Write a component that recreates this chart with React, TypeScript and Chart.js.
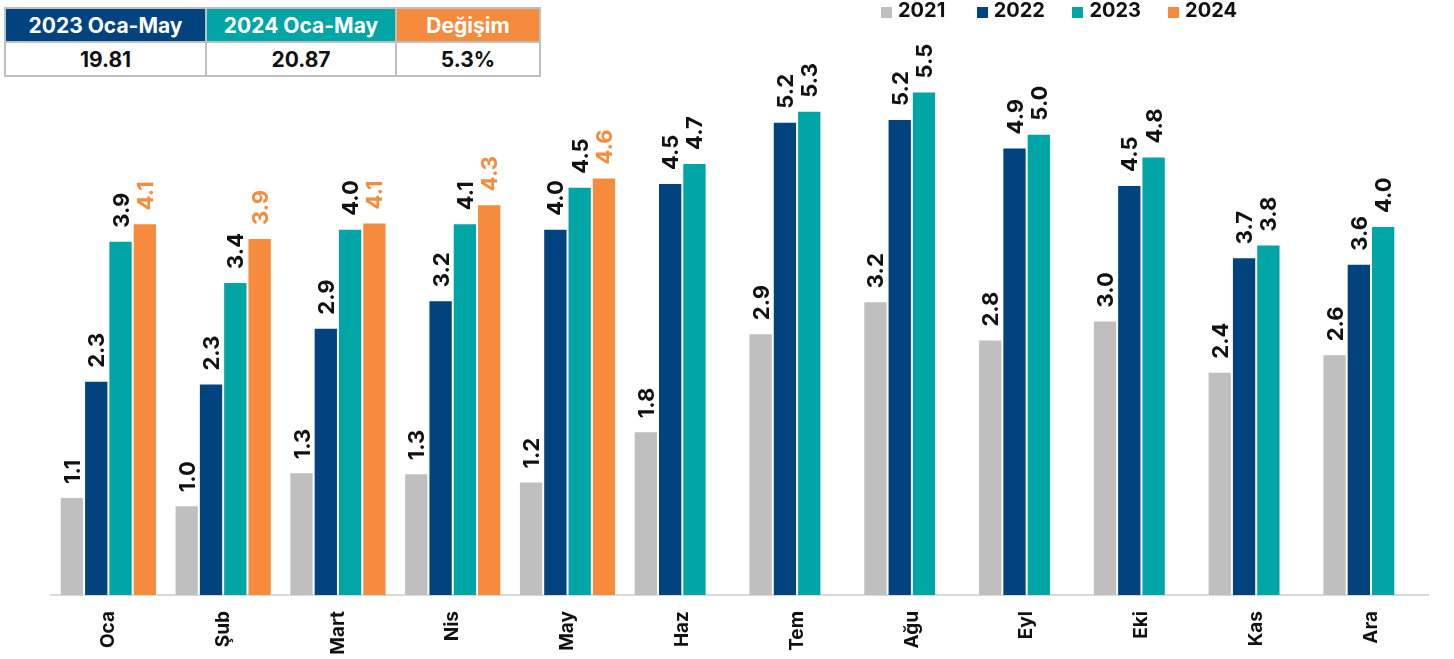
import React, { useEffect, useRef } from "react";
import { Chart, registerables } from "chart.js";

Chart.register(...registerables);

const months = ["Oca", "Şub", "Mart", "Nis", "May", "Haz", "Tem", "Ağu", "Eyl", "Eki", "Kas", "Ara"];
const seriesNames = ["2021", "2022", "2023", "2024"];
const values2021 = [1.07, 0.98, 1.34, 1.33, 1.24, 1.79, 2.86, 3.21, 2.79, 3.0, 2.44, 2.63];
const values2022 = [2.34, 2.31, 2.92, 3.22, 4.0, 4.5, 5.17, 5.2, 4.89, 4.48, 3.69, 3.62];
const values2023 = [3.87, 3.42, 4.0, 4.06, 4.46, 4.72, 5.29, 5.5, 5.04, 4.79, 3.83, 4.03];
const values2024 = [4.06, 3.9, 4.07, 4.27, 4.56, null, null, null, null, null, null, null];
const seriesColors = ["#bfbfbf", "#00437f", "#00a5a6", "#f78b3d"];
const labelColors = ["#111111", "#111111", "#111111", "#f78b3d"];

const tableHeaders = ["2023 Oca-May", "2024 Oca-May", "Değişim"];
const tableValues = ["19.81", "20.87", "5.3%"];
const tableHeaderColors = ["#00437f", "#00a5a6", "#f78b3d"];

const FONT = "Inter, 'Noto Sans', sans-serif";

const valueLabelPlugin = {
  id: "valueLabels",
  afterDatasetsDraw(chart: any) {
    const ctx = chart.ctx;
    chart.data.datasets.forEach((ds: any, i: number) => {
      const meta = chart.getDatasetMeta(i);
      if (meta.hidden) return;
      meta.data.forEach((bar: any, j: number) => {
        const v = ds.data[j];
        if (v === null || v === undefined) return;
        ctx.save();
        ctx.translate(bar.x, bar.y - 13);
        ctx.rotate(-Math.PI / 2);
        ctx.font = `700 22px ${FONT}`;
        ctx.fillStyle = labelColors[i];
        ctx.textAlign = "left";
        ctx.textBaseline = "alphabetic";
        ctx.fillText((Math.round(v * 10) / 10).toFixed(1), 0, 8);
        ctx.restore();
      });
    });
  },
};

export default function App() {
  const canvasRef = useRef<HTMLCanvasElement | null>(null);

  useEffect(() => {
    if (!canvasRef.current) return;
    const allSeries = [values2021, values2022, values2023, values2024];
    const chart = new Chart(canvasRef.current, {
      type: "bar",
      data: {
        labels: months,
        datasets: allSeries.map((d, i) => ({
          label: seriesNames[i],
          data: d,
          backgroundColor: seriesColors[i],
          borderColor: "rgba(255,255,255,0.55)",
          borderWidth: 1,
          categoryPercentage: 0.847,
          barPercentage: 1,
        })),
      },
      options: {
        responsive: false,
        animation: false,
        layout: { padding: { left: 51, right: 25.6, top: 0, bottom: 0 } },
        plugins: {
          legend: { display: false },
          tooltip: { enabled: false },
          title: { display: false },
        },
        scales: {
          x: {
            grid: { display: false, drawTicks: false },
            border: { display: true, color: "#d9d9d9", width: 2 },
            ticks: {
              autoSkip: false,
              minRotation: 90,
              maxRotation: 90,
              padding: 16,
              color: "#111111",
              font: { family: FONT, size: 19, weight: "bold" },
            },
            afterFit: (scale: any) => {
              scale.height = 64;
            },
          },
          y: {
            display: false,
            min: 0,
            max: 6.5,
          },
        },
      },
      plugins: [valueLabelPlugin],
    } as any);
    return () => chart.destroy();
  }, []);

  const legendItems = seriesNames.map((name, i) => (
    <div
      key={name}
      style={{
        position: "absolute",
        left: 881 + i * 95.7,
        top: 0,
        height: 22,
        display: "flex",
        alignItems: "flex-start",
      }}
    >
      <div style={{ width: 11, height: 11, marginTop: 7, background: seriesColors[i] }} />
      <div
        style={{
          marginLeft: 6,
          font: `700 20px ${FONT}`,
          lineHeight: "20px",
          color: "#111111",
          whiteSpace: "nowrap",
        }}
      >
        {name}
      </div>
    </div>
  ));

  return (
    <div style={{ position: "absolute", left: 0, top: 0, width: 1454, height: 659, background: "#ffffff", overflow: "hidden" }}>
      <canvas ref={canvasRef} width={1454} height={659} style={{ position: "absolute", left: 0, top: 0 }} />
      <div
        style={{
          position: "absolute",
          left: 4,
          top: 7,
          display: "grid",
          gridTemplateColumns: "199px 188px 142px",
          gridTemplateRows: "32px 32px",
          gap: 2,
          padding: 2,
          background: "#bfbfbf",
          fontFamily: FONT,
        }}
      >
        {tableHeaders.map((h, i) => (
          <div
            key={h}
            style={{
              background: tableHeaderColors[i],
              color: "#ffffff",
              fontWeight: 700,
              fontSize: 21,
              display: "flex",
              alignItems: "center",
              justifyContent: "center",
              whiteSpace: "nowrap",
            }}
          >
            {h}
          </div>
        ))}
        {tableValues.map((v) => (
          <div
            key={v}
            style={{
              background: "#ffffff",
              color: "#111111",
              fontWeight: 700,
              fontSize: 21,
              display: "flex",
              alignItems: "center",
              justifyContent: "center",
            }}
          >
            {v}
          </div>
        ))}
      </div>
      {legendItems}
    </div>
  );
}
